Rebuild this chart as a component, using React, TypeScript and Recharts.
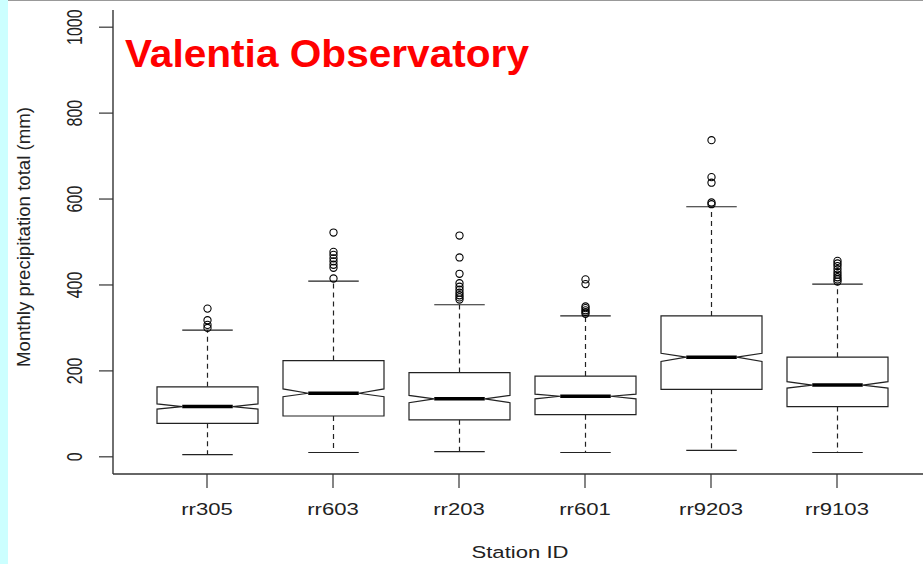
import { BarChart, Bar, XAxis, YAxis } from 'recharts'

// station order as drawn left to right
const stations = ['rr305', 'rr603', 'rr203', 'rr601', 'rr9203', 'rr9103']

// five-number summaries + notch limits, mm
const whiskerLow = [5, 10, 12, 10, 15, 10]
const q1 = [78, 95, 86, 98, 157, 117]
const notchLow = [111, 140, 126, 135, 222, 160]
const median = [117, 148, 135, 141, 232, 167]
const notchHigh = [123, 158, 143, 146, 241, 175]
const q3 = [163, 224, 196, 188, 328, 232]
const whiskerHigh = [295, 409, 354, 328, 582, 402]

const outliers = [
    [300, 307, 318, 345],
    [415, 440, 447, 455, 462, 470, 477, 522],
    [366, 371, 376, 382, 389, 396, 404, 426, 464, 515],
    [333, 337, 341, 346, 350, 402, 413],
    [588, 592, 638, 651, 737],
    [408, 413, 418, 424, 430, 437, 444, 450, 456],
]

const yTicks = [0, 200, 400, 600, 800, 1000]

const data = stations.map((name, i) => ({
    name,
    range: [whiskerLow[i], whiskerHigh[i]],
    q1: q1[i],
    notchLow: notchLow[i],
    median: median[i],
    notchHigh: notchHigh[i],
    q3: q3[i],
    outliers: outliers[i],
}))

const FONT = '"Liberation Sans", Arial, sans-serif'
const INK = '#222'

function NotchedBox(props: any) {
    const { x, y, width, height, payload } = props
    const [lo, hi] = payload.range
    const pLo = y + height
    const pHi = y
    // map a value to pixels using the bar's own scaled ends
    const py = (v: number) => pLo + ((v - lo) * (pHi - pLo)) / (hi - lo)
    const cx = x + width / 2
    const hw = width / 2
    const nw = hw / 2
    const l = cx - hw
    const r = cx + hw

    const pts = [
        [l, py(payload.q1)],
        [l, py(payload.notchLow)],
        [cx - nw, py(payload.median)],
        [l, py(payload.notchHigh)],
        [l, py(payload.q3)],
        [r, py(payload.q3)],
        [r, py(payload.notchHigh)],
        [cx + nw, py(payload.median)],
        [r, py(payload.notchLow)],
        [r, py(payload.q1)],
    ]
        .map(p => p.join(','))
        .join(' ')

    return (
        <g>
            <line x1={cx} x2={cx} y1={py(payload.q3)} y2={py(hi)} stroke={INK} strokeWidth={1.2} strokeDasharray="5 4" />
            <line x1={cx} x2={cx} y1={py(payload.q1)} y2={py(lo)} stroke={INK} strokeWidth={1.2} strokeDasharray="5 4" />
            <line x1={cx - nw} x2={cx + nw} y1={py(hi)} y2={py(hi)} stroke={INK} strokeWidth={1.2} />
            <line x1={cx - nw} x2={cx + nw} y1={py(lo)} y2={py(lo)} stroke={INK} strokeWidth={1.2} />
            <polygon points={pts} fill="#fff" stroke={INK} strokeWidth={1.2} />
            <line x1={cx - nw} x2={cx + nw} y1={py(payload.median)} y2={py(payload.median)} stroke="#000" strokeWidth={3.5} />
            {payload.outliers.map((v: number, k: number) => (
                <circle key={k} cx={cx} cy={py(v)} r={3.6} fill="none" stroke="#000" strokeWidth={1.1} />
            ))}
        </g>
    )
}

function XTick({ x, y, payload }: any) {
    return (
        <text
            transform={`translate(${x},${y + 27}) scale(1.3,1)`}
            textAnchor="middle"
            fontFamily={FONT}
            fontSize={17}
            fill={INK}
        >
            {payload.value}
        </text>
    )
}

function YTick({ x, y, payload }: any) {
    return (
        <text
            transform={`translate(${x - 17},${y}) rotate(-90) scale(1,1.4)`}
            textAnchor="middle"
            fontFamily={FONT}
            fontSize={16}
            fill={INK}
        >
            {payload.value}
        </text>
    )
}

export default function App() {
    return (
        <div
            style={{
                position: 'absolute',
                left: 0,
                top: 0,
                width: 923,
                height: 564,
                overflow: 'hidden',
                background: '#fff',
            }}
        >
            <BarChart
                width={940}
                height={564}
                data={data}
                margin={{ top: 10, right: 10, left: 0, bottom: 0 }}
                barSize={101}
            >
                <XAxis
                    dataKey="name"
                    height={90}
                    padding={{ left: 31, right: 30 }}
                    axisLine={{ stroke: '#333', strokeWidth: 1.4 }}
                    tickLine={{ stroke: '#333', strokeWidth: 1.2 }}
                    tickSize={14}
                    tickMargin={0}
                    tick={<XTick />}
                    interval={0}
                />
                <XAxis
                    xAxisId="top"
                    dataKey="name"
                    orientation="top"
                    height={0}
                    padding={{ left: 31, right: 30 }}
                    axisLine={{ stroke: '#333', strokeWidth: 1.4 }}
                    tick={false}
                    tickLine={false}
                />
                <YAxis
                    width={113}
                    type="number"
                    domain={[-40, 1040]}
                    allowDataOverflow
                    ticks={yTicks}
                    interval={0}
                    axisLine={{ stroke: '#333', strokeWidth: 1.4 }}
                    tickLine={{ stroke: '#333', strokeWidth: 1.2 }}
                    tickSize={14}
                    tickMargin={0}
                    tick={<YTick />}
                />
                <Bar dataKey="range" shape={<NotchedBox />} isAnimationActive={false} />
            </BarChart>
            <svg
                width={923}
                height={564}
                style={{ position: 'absolute', left: 0, top: 0, pointerEvents: 'none' }}
            >
                <rect x={0} y={0} width={8} height={564} fill="#ccffff" />
                <line x1={8} x2={923} y1={0.5} y2={0.5} stroke="#999" strokeWidth={1} />
                <text
                    x={125}
                    y={67}
                    fontFamily={FONT}
                    fontWeight="bold"
                    fontSize={38}
                    fill="#ff0000"
                    textLength={404}
                    lengthAdjust="spacingAndGlyphs"
                >
                    Valentia Observatory
                </text>
                <text
                    transform="translate(30,237) rotate(-90) scale(1,1.2)"
                    textAnchor="middle"
                    fontFamily={FONT}
                    fontSize={16}
                    fill={INK}
                    textLength={260}
                    lengthAdjust="spacingAndGlyphs"
                >
                    Monthly precipitation total (mm)
                </text>
                <text
                    transform="translate(520,558) scale(1.3,1)"
                    textAnchor="middle"
                    fontFamily={FONT}
                    fontSize={17}
                    fill={INK}
                >
                    Station ID
                </text>
            </svg>
        </div>
    )
}
